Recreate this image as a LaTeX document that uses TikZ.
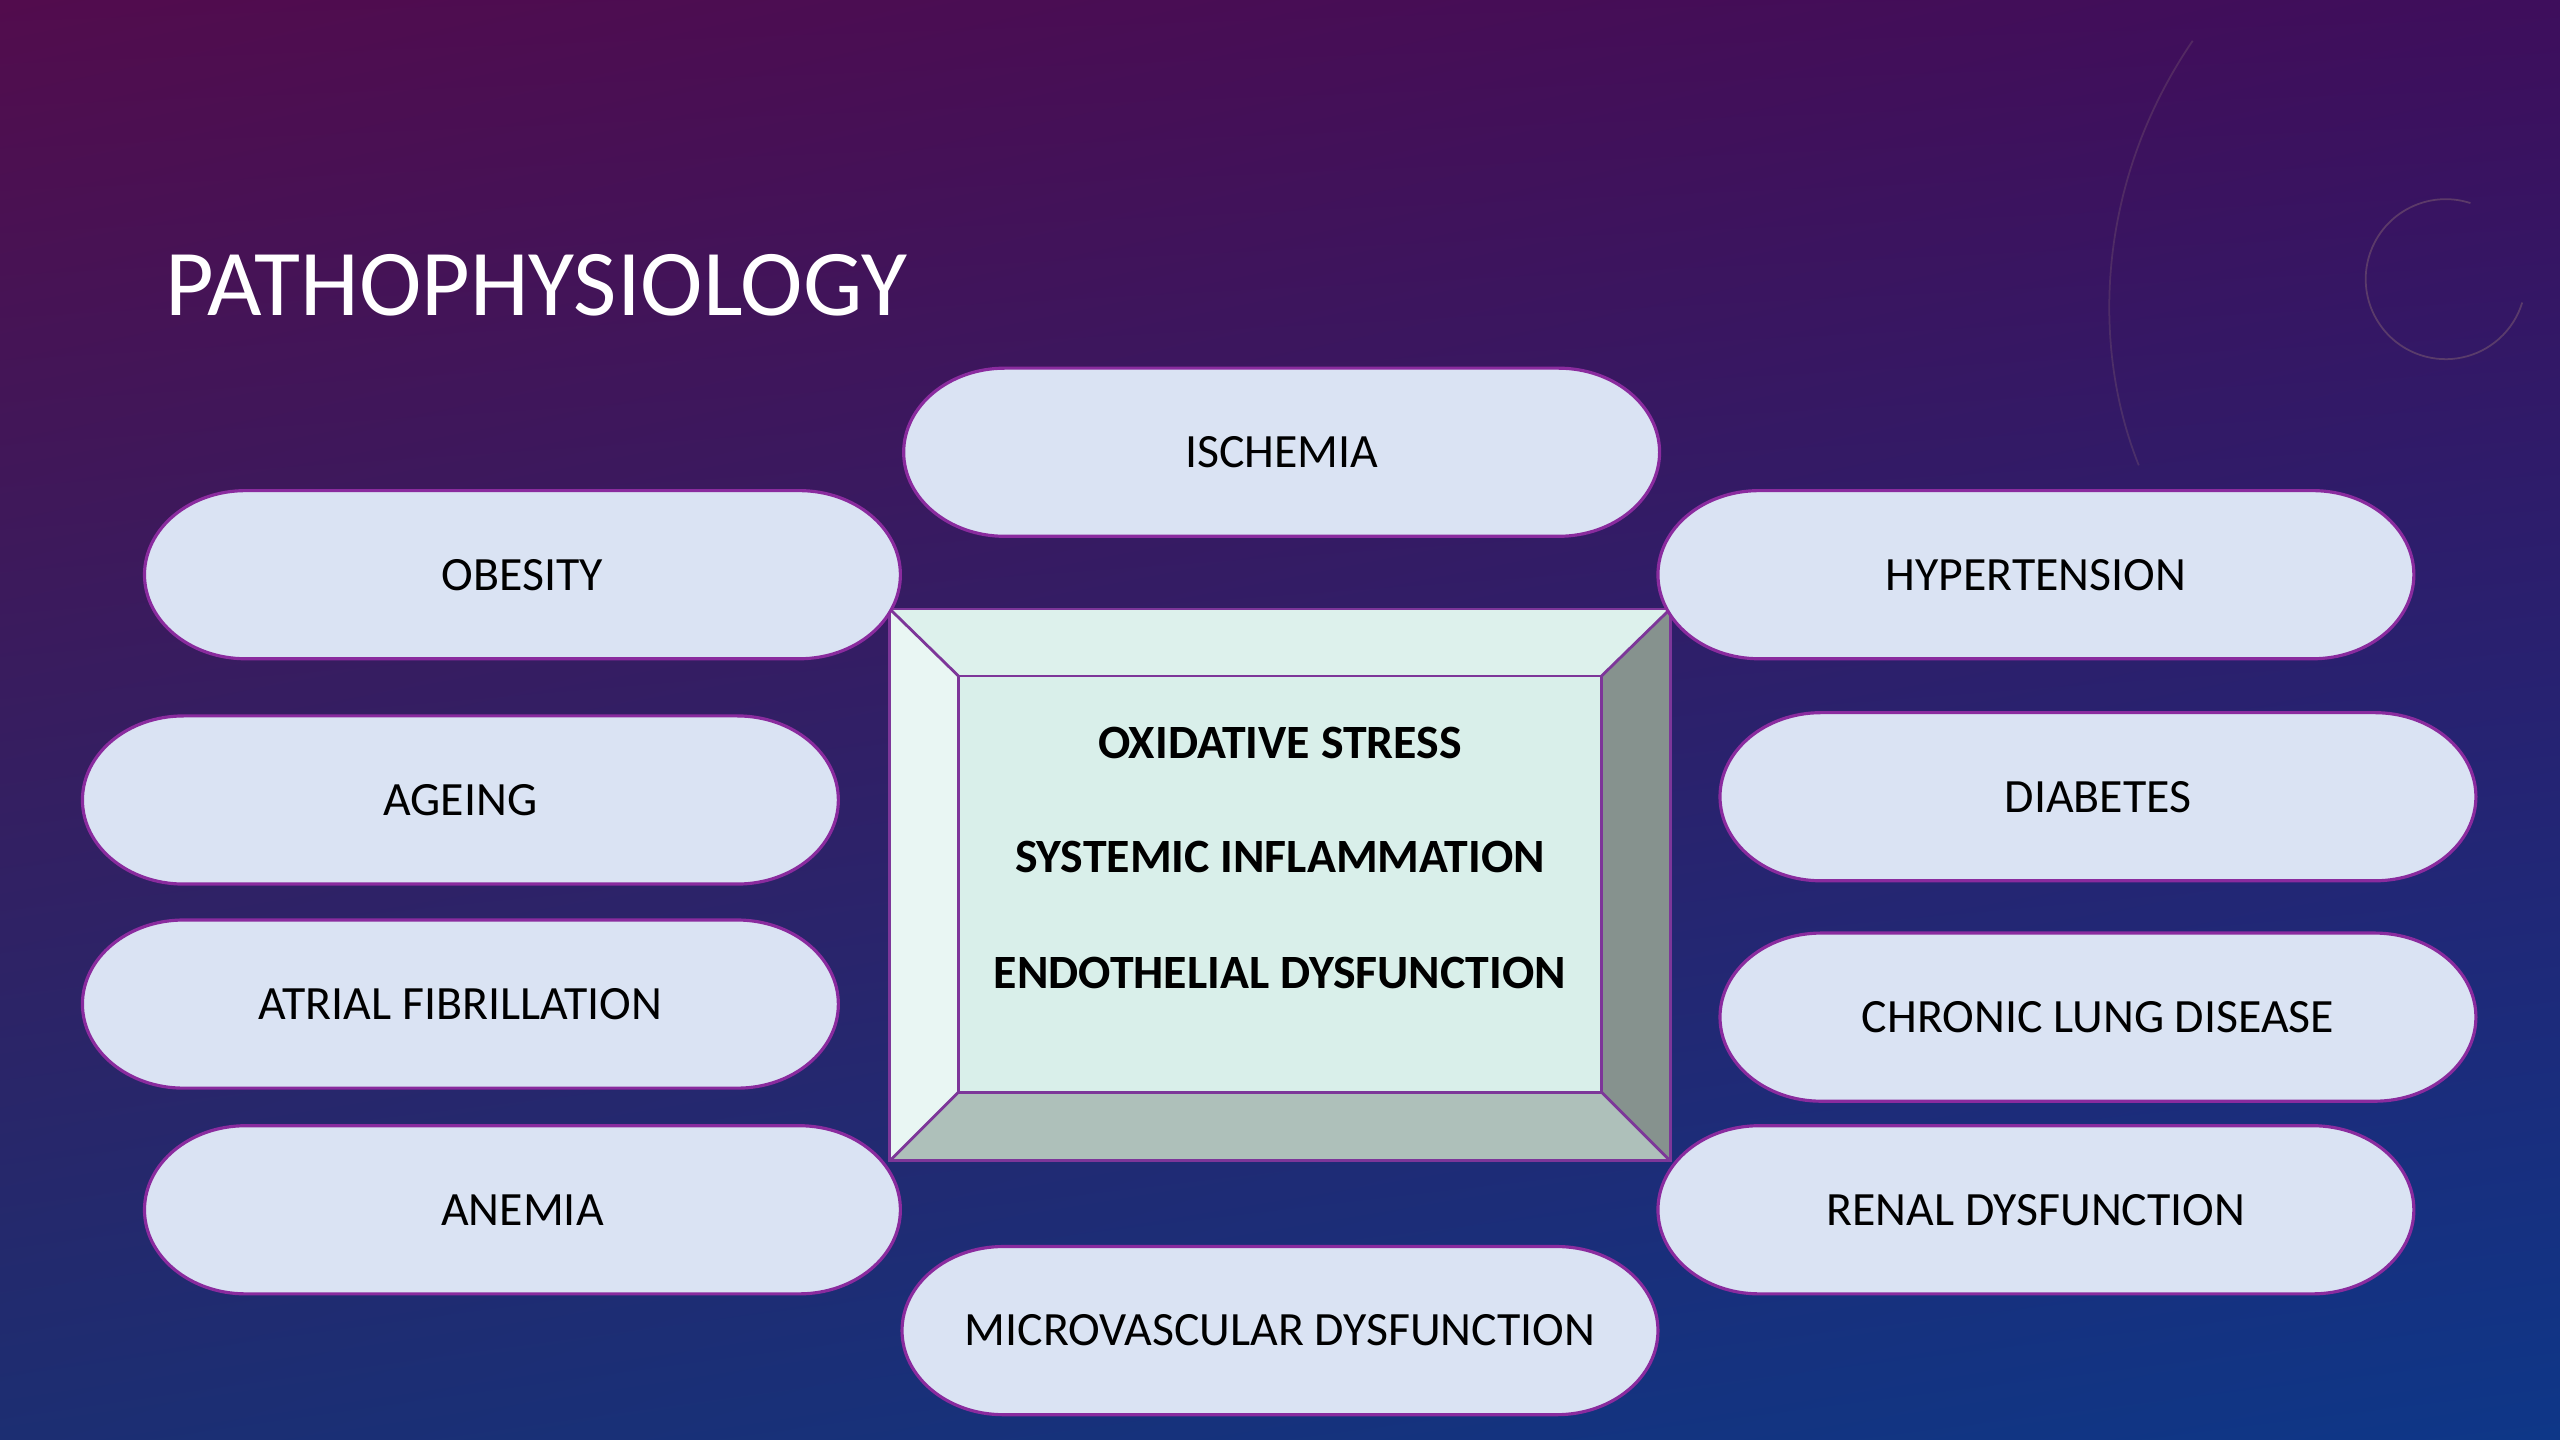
\documentclass[tikz,border=0pt]{standalone}
\usepackage{fontspec}
\setmainfont{Carlito}
\usetikzlibrary{shadings}
\begin{document}
\begin{tikzpicture}[x=0.0163265cm,y=-0.0163265cm,
  pillbody/.style={draw=pillline,line width=0.9pt,fill=pillfill},
  pilltext/.style={inner sep=0pt,font=\fontsize{13.6}{16}\selectfont,text=black},
  bevel/.style={draw=boxline,line width=0.8pt,line join=miter},
  core/.style={font=\bfseries\fontsize{13.6}{16}\selectfont,text=black,inner sep=0pt}]
\definecolor{pillfill}{HTML}{DAE3F3}
\definecolor{pillline}{HTML}{8A2B9E}
\definecolor{boxline}{HTML}{7D3699}
\definecolor{bgtl}{HTML}{520C4D}
\definecolor{bgtr}{HTML}{3E0E5C}
\definecolor{bgbl}{HTML}{1C2E72}
\definecolor{bgbr}{HTML}{0E3788}
\definecolor{facec}{HTML}{D9EFEA}
\definecolor{topb}{HTML}{DDF1EC}
\definecolor{leftb}{HTML}{E9F6F3}
\definecolor{rightb}{HTML}{86928E}
\definecolor{botb}{HTML}{AEC0BA}
\definecolor{deco}{HTML}{7A5A70}
% background
\shade[shading=bilinear interpolation,upper left=bgtl,upper right=bgtr,lower left=bgbl,lower right=bgbr] (0,0) rectangle (1568,882);
\useasboundingbox (0,0) rectangle (1568,882);
% faint decorative arcs
\draw[draw=deco,opacity=0.55,line width=0.5pt] (1498,171) ++(-72:49) arc[start angle=-72,end angle=-343,radius=49];
\draw[draw=deco,opacity=0.35,line width=0.5pt] (1343,25) .. controls (1285,110) and (1280,210) .. (1310,285);
% title
\node[anchor=base west,text=white,font=\fontsize{26.8}{32}\selectfont,inner sep=0pt] (title) at (101,193) {PATHOPHYSIOLOGY};
% central bevelled box
\coordinate (otl) at (545,373);
\coordinate (otr) at (1023,373);
\coordinate (obr) at (1023,711);
\coordinate (obl) at (545,711);
\coordinate (itl) at (587,414);
\coordinate (itr) at (981,414);
\coordinate (ibr) at (981,669);
\coordinate (ibl) at (587,669);
\fill[topb] (otl) -- (otr) -- (itr) -- (itl) -- cycle;
\fill[leftb] (otl) -- (itl) -- (ibl) -- (obl) -- cycle;
\fill[rightb] (otr) -- (obr) -- (ibr) -- (itr) -- cycle;
\fill[botb] (obl) -- (ibl) -- (ibr) -- (obr) -- cycle;
\fill[facec] (itl) rectangle (ibr);
\draw[bevel] (otl) rectangle (obr);
\draw[bevel] (itl) rectangle (ibr);
\draw[bevel] (otl) -- (itl) (otr) -- (itr) (obr) -- (ibr) (obl) -- (ibl);
\node[core] (ox) at (784,455) {OXIDATIVE STRESS};
\node[core] (si) at (784,525) {SYSTEMIC INFLAMMATION};
\node[core] (ed) at (784,596) {ENDOTHELIAL DYSFUNCTION};
% pills (elliptical ends)
\foreach \n/\x/\y/\t in {isch/785/277/ISCHEMIA, obes/320/352/OBESITY, hyp/1247/352/HYPERTENSION,
  age/282/490/AGEING, diab/1285/488/DIABETES, af/282/615/ATRIAL FIBRILLATION,
  cld/1285/623/CHRONIC LUNG DISEASE, anem/320/741/ANEMIA, renal/1247/741/RENAL DYSFUNCTION,
  micro/784/815/MICROVASCULAR DYSFUNCTION}{
  \path[pillbody] ({\x-169.5},{\y-51.5}) -- ({\x+169.5},{\y-51.5})
    .. controls ({\x+203.7},{\y-51.5}) and ({\x+231.5},{\y-28.4}) .. ({\x+231.5},{\y})
    .. controls ({\x+231.5},{\y+28.4}) and ({\x+203.7},{\y+51.5}) .. ({\x+169.5},{\y+51.5})
    -- ({\x-169.5},{\y+51.5})
    .. controls ({\x-203.7},{\y+51.5}) and ({\x-231.5},{\y+28.4}) .. ({\x-231.5},{\y})
    .. controls ({\x-231.5},{\y-28.4}) and ({\x-203.7},{\y-51.5}) .. cycle;
  \node[pilltext] (\n) at (\x,\y) {\t};
}
\end{tikzpicture}
\end{document}
